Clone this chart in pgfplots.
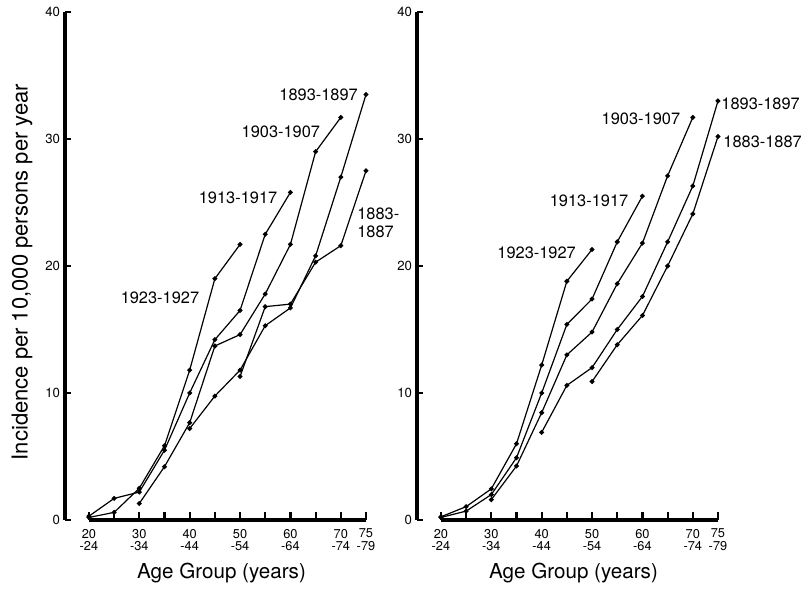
\documentclass[border=0pt]{standalone}
\usepackage{fontspec}
\setmainfont{TeX Gyre Heros}
\usepackage{pgfplots}
\pgfplotsset{compat=1.18}

% shared look of both panels
\pgfplotsset{
  panel/.style={
    scale only axis, width=150.5pt, height=254pt,
    xmin=15.25, xmax=75, ymin=0, ymax=40,
    clip=false,
    axis x line*=bottom, axis y line*=left,
    axis line style={-},
    x axis line style={draw=none},
    y axis line style={line width=2pt},
    xtick pos=bottom, ytick pos=left,
    tick align=inside,
    major tick length=0pt,
    xtick={20,25,...,75},
    xticklabels={{20\\-24},{},{30\\-34},{},{40\\-44},{},{50\\-54},{},{60\\-64},{},{70\\-74},{75\\-79}},
    xticklabel style={align=center, font=\fontsize{6.4}{6.2}\selectfont, yshift=-1pt},
    ytick={0,10,20,30,40},
    /pgf/number format/assume math mode=true,
    yticklabel style={font=\fontsize{6.6}{7}\selectfont, xshift=1pt},
    xlabel={Age Group (years)},
    xlabel style={at={(axis description cs:0.52,-0.104)}, anchor=center,
                  font=\fontsize{10.3}{12}\selectfont},
    every axis plot post/.append style={black, solid, line width=0.6pt,
                  mark=*, mark size=0.9pt, mark options={solid, fill=black}},
  },
}
\tikzset{lab/.style={font=\fontsize{8.2}{9.4}\selectfont, inner sep=0pt},
         tk/.style={draw=black, line width=1.1pt}}

\begin{document}
\begin{tikzpicture}
\path (-32.5pt,-32pt) rectangle (372.5pt,260pt);

% ---------------- left panel ----------------
\begin{axis}[panel,
    ylabel={Incidence per 10,000 persons per year},
    ylabel style={at={(axis description cs:-0.1429,0.488)}, anchor=center,
                  font=\fontsize{11}{13}\selectfont},
]
% x axis line (from 20 on) and tick marks
\draw[tk, line width=1.6pt] (axis cs:20,0) -- (axis cs:75,0);
\draw[tk] (axis cs:20,0) -- (axis cs:20,0.6);
\draw[tk] (axis cs:25,0) -- (axis cs:25,0.6);
\draw[tk] (axis cs:30,0) -- (axis cs:30,0.6);
\draw[tk] (axis cs:35,0) -- (axis cs:35,0.6);
\draw[tk] (axis cs:40,0) -- (axis cs:40,0.6);
\draw[tk] (axis cs:45,0) -- (axis cs:45,0.6);
\draw[tk] (axis cs:50,0) -- (axis cs:50,0.6);
\draw[tk] (axis cs:55,0) -- (axis cs:55,0.6);
\draw[tk] (axis cs:60,0) -- (axis cs:60,0.6);
\draw[tk] (axis cs:65,0) -- (axis cs:65,0.6);
\draw[tk] (axis cs:70,0) -- (axis cs:70,0.6);
\draw[tk] (axis cs:75,0) -- (axis cs:75,0.6);
\draw[tk] (axis cs:15.25,0) -- (axis cs:16.4,0);
\draw[tk] (axis cs:15.25,10) -- (axis cs:16.4,10);
\draw[tk] (axis cs:15.25,20) -- (axis cs:16.4,20);
\draw[tk] (axis cs:15.25,30) -- (axis cs:16.4,30);
\draw[tk] (axis cs:15.25,40) -- (axis cs:16.4,40);
% 1923-1927
\addplot coordinates {(20,0.2) (25,0.6) (30,2.5) (35,5.85) (40,11.8) (45,19.0) (50,21.7)};
% 1913-1917
\addplot coordinates {(20,0.3) (25,1.7) (30,2.2) (35,5.5) (40,10.0) (45,14.2) (50,16.5) (55,22.5) (60,25.8)};
% 1903-1907
\addplot coordinates {(30,1.3) (35,4.2) (40,7.66) (45,13.7) (50,14.6) (55,17.8) (60,21.7) (65,29.0) (70,31.7)};
% 1893-1897
\addplot coordinates {(40,7.2) (45,9.76) (50,11.8) (55,15.3) (60,16.7) (65,20.8) (70,27.0) (75,33.5)};
% 1883-1887
\addplot coordinates {(50,11.3) (55,16.8) (60,17.0) (65,20.3) (70,21.6) (75,27.5)};

\node[lab] at (axis cs:65.6,33.5) {1893-1897};
\node[lab] at (axis cs:58.1,30.6) {1903-1907};
\node[lab] at (axis cs:49.6,25.4) {1913-1917};
\node[lab, anchor=west, align=left] at (axis cs:73.2,23.4) {1883-\\1887};
\node[lab] at (axis cs:34.1,17.5) {1923-1927};
\end{axis}

% ---------------- right panel ----------------
\begin{axis}[panel, at={(176pt,0)}]
\draw[tk, line width=1.6pt] (axis cs:20,0) -- (axis cs:75,0);
\draw[tk] (axis cs:20,0) -- (axis cs:20,0.6);
\draw[tk] (axis cs:25,0) -- (axis cs:25,0.6);
\draw[tk] (axis cs:30,0) -- (axis cs:30,0.6);
\draw[tk] (axis cs:35,0) -- (axis cs:35,0.6);
\draw[tk] (axis cs:40,0) -- (axis cs:40,0.6);
\draw[tk] (axis cs:45,0) -- (axis cs:45,0.6);
\draw[tk] (axis cs:50,0) -- (axis cs:50,0.6);
\draw[tk] (axis cs:55,0) -- (axis cs:55,0.6);
\draw[tk] (axis cs:60,0) -- (axis cs:60,0.6);
\draw[tk] (axis cs:65,0) -- (axis cs:65,0.6);
\draw[tk] (axis cs:70,0) -- (axis cs:70,0.6);
\draw[tk] (axis cs:75,0) -- (axis cs:75,0.6);
\draw[tk] (axis cs:15.25,0) -- (axis cs:16.4,0);
\draw[tk] (axis cs:15.25,10) -- (axis cs:16.4,10);
\draw[tk] (axis cs:15.25,20) -- (axis cs:16.4,20);
\draw[tk] (axis cs:15.25,30) -- (axis cs:16.4,30);
\draw[tk] (axis cs:15.25,40) -- (axis cs:16.4,40);
% 1923-1927
\addplot coordinates {(20,0.25) (25,1.05) (30,2.45) (35,6.0) (40,12.2) (45,18.8) (50,21.3)};
% 1913-1917
\addplot coordinates {(20,0.2) (25,0.7) (30,2.0) (35,4.9) (40,10.0) (45,15.4) (50,17.4) (55,21.9) (60,25.5)};
% 1903-1907
\addplot coordinates {(30,1.6) (35,4.25) (40,8.45) (45,13.0) (50,14.8) (55,18.6) (60,21.8) (65,27.1) (70,31.7)};
% 1893-1897
\addplot coordinates {(40,6.9) (45,10.6) (50,12.0) (55,15.0) (60,17.6) (65,21.9) (70,26.3) (75,33.0)};
% 1883-1887
\addplot coordinates {(50,10.9) (55,13.8) (60,16.1) (65,20.0) (70,24.1) (75,30.2)};

\node[lab, anchor=west] at (axis cs:75.6,32.8) {1893-1897};
\node[lab, anchor=west] at (axis cs:76.0,29.8) {1883-1887};
\node[lab] at (axis cs:59.7,31.6) {1903-1907};
\node[lab] at (axis cs:49.4,25.1) {1913-1917};
\node[lab] at (axis cs:39.0,21.0) {1923-1927};
\end{axis}
\end{tikzpicture}
\end{document}
